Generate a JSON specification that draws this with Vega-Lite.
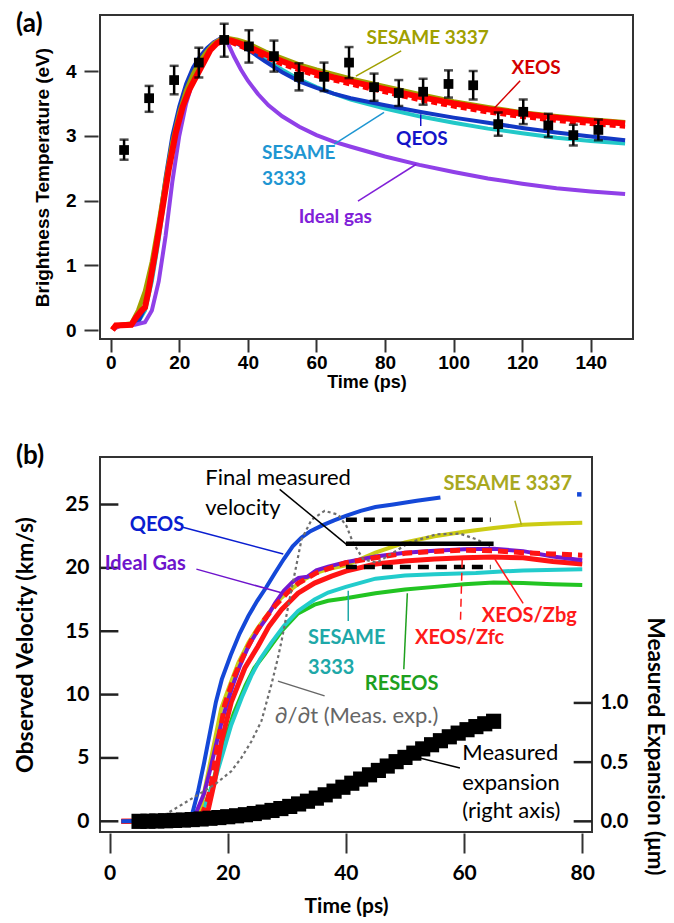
{
"$schema":"https://vega.github.io/schema/vega-lite/v6.json",
"padding":{"left":13,"top":10,"right":5,"bottom":5},
"bounds":"flush",
"spacing":118,
"resolve":{"scale":{"color":"independent"}},
"config":{"view":{"stroke":"#333333","strokeWidth":2},"axis":{"grid":false,"domain":false,"tickColor":"#333333","tickWidth":2,"labelColor":"#000000","titleColor":"#000000"}},
"datasets":{
"a_curves":[
{"s":"ideal","t":1,"v":0.02},{"s":"ideal","t":3,"v":0.07},{"s":"ideal","t":7,"v":0.08},{"s":"ideal","t":10,"v":0.12},{"s":"ideal","t":12,"v":0.3},{"s":"ideal","t":14,"v":0.75},{"s":"ideal","t":16,"v":1.45},{"s":"ideal","t":18,"v":2.3},{"s":"ideal","t":20,"v":3.0},{"s":"ideal","t":22,"v":3.5},{"s":"ideal","t":24,"v":3.85},{"s":"ideal","t":26,"v":4.1},{"s":"ideal","t":28,"v":4.3},{"s":"ideal","t":30,"v":4.43},{"s":"ideal","t":32,"v":4.5},{"s":"ideal","t":33,"v":4.51},{"s":"ideal","t":34,"v":4.45},{"s":"ideal","t":36,"v":4.22},{"s":"ideal","t":38,"v":4.02},{"s":"ideal","t":40,"v":3.85},{"s":"ideal","t":43,"v":3.64},{"s":"ideal","t":46,"v":3.47},{"s":"ideal","t":50,"v":3.3},{"s":"ideal","t":55,"v":3.14},{"s":"ideal","t":60,"v":3.01},{"s":"ideal","t":65,"v":2.91},{"s":"ideal","t":70,"v":2.83},{"s":"ideal","t":80,"v":2.68},{"s":"ideal","t":90,"v":2.55},{"s":"ideal","t":100,"v":2.44},{"s":"ideal","t":110,"v":2.34},{"s":"ideal","t":120,"v":2.26},{"s":"ideal","t":130,"v":2.19},{"s":"ideal","t":140,"v":2.14},{"s":"ideal","t":150,"v":2.1},
{"s":"s3333","t":0.5,"v":0.02},{"s":"s3333","t":2,"v":0.07},{"s":"s3333","t":6,"v":0.08},{"s":"s3333","t":8,"v":0.12},{"s":"s3333","t":10,"v":0.3},{"s":"s3333","t":12,"v":0.75},{"s":"s3333","t":14,"v":1.4},{"s":"s3333","t":16,"v":2.15},{"s":"s3333","t":18,"v":2.85},{"s":"s3333","t":20,"v":3.35},{"s":"s3333","t":22,"v":3.7},{"s":"s3333","t":24,"v":3.95},{"s":"s3333","t":26,"v":4.15},{"s":"s3333","t":28,"v":4.3},{"s":"s3333","t":30,"v":4.42},{"s":"s3333","t":32,"v":4.49},{"s":"s3333","t":34,"v":4.5},{"s":"s3333","t":37,"v":4.45},{"s":"s3333","t":40,"v":4.36},{"s":"s3333","t":45,"v":4.18},{"s":"s3333","t":50,"v":4.02},{"s":"s3333","t":55,"v":3.87},{"s":"s3333","t":60,"v":3.75},{"s":"s3333","t":65,"v":3.65},{"s":"s3333","t":70,"v":3.56},{"s":"s3333","t":80,"v":3.42},{"s":"s3333","t":90,"v":3.3},{"s":"s3333","t":100,"v":3.2},{"s":"s3333","t":110,"v":3.11},{"s":"s3333","t":120,"v":3.04},{"s":"s3333","t":130,"v":2.97},{"s":"s3333","t":140,"v":2.92},{"s":"s3333","t":150,"v":2.88},
{"s":"qeos","t":0.5,"v":0.02},{"s":"qeos","t":2,"v":0.07},{"s":"qeos","t":6,"v":0.08},{"s":"qeos","t":8,"v":0.12},{"s":"qeos","t":10,"v":0.35},{"s":"qeos","t":12,"v":0.9},{"s":"qeos","t":14,"v":1.6},{"s":"qeos","t":16,"v":2.35},{"s":"qeos","t":18,"v":3.0},{"s":"qeos","t":20,"v":3.45},{"s":"qeos","t":22,"v":3.8},{"s":"qeos","t":24,"v":4.05},{"s":"qeos","t":26,"v":4.22},{"s":"qeos","t":28,"v":4.35},{"s":"qeos","t":30,"v":4.44},{"s":"qeos","t":32,"v":4.5},{"s":"qeos","t":34,"v":4.49},{"s":"qeos","t":37,"v":4.42},{"s":"qeos","t":40,"v":4.33},{"s":"qeos","t":45,"v":4.15},{"s":"qeos","t":50,"v":3.98},{"s":"qeos","t":55,"v":3.84},{"s":"qeos","t":60,"v":3.74},{"s":"qeos","t":65,"v":3.65},{"s":"qeos","t":70,"v":3.58},{"s":"qeos","t":80,"v":3.47},{"s":"qeos","t":90,"v":3.37},{"s":"qeos","t":100,"v":3.28},{"s":"qeos","t":110,"v":3.2},{"s":"qeos","t":120,"v":3.12},{"s":"qeos","t":130,"v":3.05},{"s":"qeos","t":140,"v":2.99},{"s":"qeos","t":150,"v":2.93},
{"s":"s3337","t":0.5,"v":0.02},{"s":"s3337","t":2,"v":0.07},{"s":"s3337","t":6,"v":0.1},{"s":"s3337","t":8,"v":0.3},{"s":"s3337","t":10,"v":0.6},{"s":"s3337","t":12,"v":1.05},{"s":"s3337","t":14,"v":1.65},{"s":"s3337","t":16,"v":2.3},{"s":"s3337","t":18,"v":2.9},{"s":"s3337","t":20,"v":3.35},{"s":"s3337","t":22,"v":3.7},{"s":"s3337","t":24,"v":3.95},{"s":"s3337","t":26,"v":4.15},{"s":"s3337","t":28,"v":4.3},{"s":"s3337","t":30,"v":4.42},{"s":"s3337","t":32,"v":4.49},{"s":"s3337","t":34,"v":4.51},{"s":"s3337","t":37,"v":4.48},{"s":"s3337","t":40,"v":4.43},{"s":"s3337","t":45,"v":4.3},{"s":"s3337","t":50,"v":4.2},{"s":"s3337","t":55,"v":4.1},{"s":"s3337","t":60,"v":4.02},{"s":"s3337","t":65,"v":3.95},{"s":"s3337","t":70,"v":3.88},{"s":"s3337","t":80,"v":3.76},{"s":"s3337","t":90,"v":3.64},{"s":"s3337","t":100,"v":3.53},{"s":"s3337","t":110,"v":3.44},{"s":"s3337","t":120,"v":3.36},{"s":"s3337","t":130,"v":3.3},{"s":"s3337","t":140,"v":3.25},{"s":"s3337","t":150,"v":3.21},
{"s":"xeosd","t":35,"v":4.44},{"s":"xeosd","t":40,"v":4.33},{"s":"xeosd","t":50,"v":4.1},{"s":"xeosd","t":60,"v":3.92},{"s":"xeosd","t":70,"v":3.79},{"s":"xeosd","t":80,"v":3.67},{"s":"xeosd","t":90,"v":3.55},{"s":"xeosd","t":100,"v":3.45},{"s":"xeosd","t":110,"v":3.36},{"s":"xeosd","t":120,"v":3.29},{"s":"xeosd","t":130,"v":3.23},{"s":"xeosd","t":140,"v":3.18},{"s":"xeosd","t":150,"v":3.14},
{"s":"xeos","t":0.5,"v":0.0},{"s":"xeos","t":1.5,"v":0.07},{"s":"xeos","t":6,"v":0.08},{"s":"xeos","t":7.5,"v":0.2},{"s":"xeos","t":9,"v":0.3},{"s":"xeos","t":10,"v":0.35},{"s":"xeos","t":11,"v":0.6},{"s":"xeos","t":13,"v":1.2},{"s":"xeos","t":15,"v":1.85},{"s":"xeos","t":17,"v":2.5},{"s":"xeos","t":19,"v":3.05},{"s":"xeos","t":21,"v":3.45},{"s":"xeos","t":23,"v":3.72},{"s":"xeos","t":25,"v":3.92},{"s":"xeos","t":27,"v":4.12},{"s":"xeos","t":29,"v":4.32},{"s":"xeos","t":31,"v":4.43},{"s":"xeos","t":33,"v":4.48},{"s":"xeos","t":35,"v":4.47},{"s":"xeos","t":37,"v":4.44},{"s":"xeos","t":40,"v":4.38},{"s":"xeos","t":45,"v":4.26},{"s":"xeos","t":50,"v":4.15},{"s":"xeos","t":55,"v":4.05},{"s":"xeos","t":60,"v":3.97},{"s":"xeos","t":65,"v":3.9},{"s":"xeos","t":70,"v":3.84},{"s":"xeos","t":80,"v":3.72},{"s":"xeos","t":90,"v":3.6},{"s":"xeos","t":100,"v":3.5},{"s":"xeos","t":110,"v":3.41},{"s":"xeos","t":120,"v":3.34},{"s":"xeos","t":130,"v":3.28},{"s":"xeos","t":140,"v":3.23},{"s":"xeos","t":150,"v":3.19}
],
"a_pts":[
{"t":3.9,"v":2.78},{"t":11.2,"v":3.58},{"t":18.5,"v":3.86},{"t":25.7,"v":4.13},{"t":33.1,"v":4.48},{"t":40.3,"v":4.38},{"t":47.6,"v":4.23},{"t":54.9,"v":3.91},{"t":62.2,"v":3.91},{"t":69.5,"v":4.13},{"t":76.8,"v":3.75},{"t":84,"v":3.66},{"t":91.1,"v":3.68},{"t":98.5,"v":3.8},{"t":105.7,"v":3.78},{"t":113,"v":3.18},{"t":120.3,"v":3.37},{"t":127.6,"v":3.16},{"t":134.9,"v":3.01},{"t":142.2,"v":3.09}
],
"a_err":[
{"t":3.9,"v":2.63,"v2":2.94},{"t":11.2,"v":3.37,"v2":3.77},{"t":18.5,"v":3.64,"v2":4.08},{"t":25.7,"v":3.9,"v2":4.36},{"t":33.1,"v":4.22,"v2":4.73},{"t":40.3,"v":4.13,"v2":4.63},{"t":47.6,"v":3.99,"v2":4.47},{"t":54.9,"v":3.7,"v2":4.12},{"t":62.2,"v":3.69,"v2":4.13},{"t":69.5,"v":3.89,"v2":4.37},{"t":76.8,"v":3.54,"v2":3.96},{"t":84,"v":3.46,"v2":3.86},{"t":91.1,"v":3.48,"v2":3.88},{"t":98.5,"v":3.59,"v2":4.01},{"t":105.7,"v":3.56,"v2":4.0},{"t":113,"v":3.0,"v2":3.36},{"t":120.3,"v":3.18,"v2":3.56},{"t":127.6,"v":2.98,"v2":3.34},{"t":134.9,"v":2.85,"v2":3.17},{"t":142.2,"v":2.93,"v2":3.25}
],
"a_text":[
{"s":"s3337","label":"SESAME 3337","t":74.6,"v":4.514},{"s":"xeos","label":"XEOS","t":116.9,"v":4.05},{"s":"s3333","label":"SESAME","t":44.1,"v":2.74},{"s":"s3333","label":"3333","t":44.1,"v":2.33},{"s":"qeos","label":"QEOS","t":83.2,"v":2.945},{"s":"ideal","label":"Ideal gas","t":54.8,"v":1.745}
],
"a_arrows":[
{"s":"s3337","t":84.7,"v":4.31,"t2":71.5,"v2":3.92},{"s":"xeos","t":119.4,"v":3.85,"t2":111.9,"v2":3.43},{"s":"s3333","t":65.2,"v":2.87,"t2":79.7,"v2":3.36},{"s":"qeos","t":90.4,"v":3.15,"t2":90.4,"v2":3.33},{"s":"ideal","t":72.1,"v":1.99,"t2":89.1,"v2":2.56}
],
"a_label":[{"label":"(a)","t":-27.6,"v":4.726}],
"b_curves":[
{"s":"reseos","t":2,"v":0},{"s":"reseos","t":13,"v":0},{"s":"reseos","t":15.5,"v":0.5},{"s":"reseos","t":17,"v":2.3},{"s":"reseos","t":19,"v":5.6},{"s":"reseos","t":21,"v":8.5},{"s":"reseos","t":23,"v":10.7},{"s":"reseos","t":24.5,"v":12.1},{"s":"reseos","t":26.3,"v":13.2},{"s":"reseos","t":29.1,"v":15.0},{"s":"reseos","t":31.9,"v":16.4},{"s":"reseos","t":34.7,"v":17.1},{"s":"reseos","t":37,"v":17.4},{"s":"reseos","t":40,"v":17.6},{"s":"reseos","t":45,"v":18.0},{"s":"reseos","t":50,"v":18.3},{"s":"reseos","t":55,"v":18.5},{"s":"reseos","t":60,"v":18.7},{"s":"reseos","t":65,"v":18.85},{"s":"reseos","t":70,"v":18.8},{"s":"reseos","t":75,"v":18.7},{"s":"reseos","t":80,"v":18.65},
{"s":"s3333","t":2,"v":0},{"s":"s3333","t":13,"v":0},{"s":"s3333","t":15.5,"v":0.6},{"s":"s3333","t":17.8,"v":3.2},{"s":"s3333","t":20.6,"v":7.6},{"s":"s3333","t":22.5,"v":9.9},{"s":"s3333","t":24,"v":11.5},{"s":"s3333","t":25.5,"v":12.8},{"s":"s3333","t":27.4,"v":14.1},{"s":"s3333","t":29.5,"v":15.4},{"s":"s3333","t":31.9,"v":16.6},{"s":"s3333","t":34.7,"v":17.5},{"s":"s3333","t":37,"v":18.05},{"s":"s3333","t":40,"v":18.5},{"s":"s3333","t":45,"v":19.15},{"s":"s3333","t":50,"v":19.4},{"s":"s3333","t":55,"v":19.5},{"s":"s3333","t":62,"v":19.6},{"s":"s3333","t":70,"v":19.8},{"s":"s3333","t":80,"v":19.9},
{"s":"zbg","t":2,"v":0},{"s":"zbg","t":13,"v":0.05},{"s":"zbg","t":15.5,"v":0.3},{"s":"zbg","t":16.7,"v":0.9},{"s":"zbg","t":17.8,"v":3.2},{"s":"zbg","t":18.9,"v":6.2},{"s":"zbg","t":20.6,"v":9.4},{"s":"zbg","t":22.9,"v":12.1},{"s":"zbg","t":25.1,"v":13.8},{"s":"zbg","t":27,"v":15.4},{"s":"zbg","t":29.1,"v":16.7},{"s":"zbg","t":31.9,"v":18.0},{"s":"zbg","t":34.7,"v":18.8},{"s":"zbg","t":37.6,"v":19.35},{"s":"zbg","t":40,"v":19.75},{"s":"zbg","t":45,"v":20.3},{"s":"zbg","t":50,"v":20.55},{"s":"zbg","t":55,"v":20.7},{"s":"zbg","t":60,"v":20.8},{"s":"zbg","t":65,"v":20.85},{"s":"zbg","t":70,"v":20.8},{"s":"zbg","t":75,"v":20.5},{"s":"zbg","t":80,"v":20.3},
{"s":"s3337","t":2,"v":0},{"s":"s3337","t":13,"v":0},{"s":"s3337","t":14.5,"v":0.4},{"s":"s3337","t":15.5,"v":1.1},{"s":"s3337","t":17.2,"v":5.0},{"s":"s3337","t":18.9,"v":8.9},{"s":"s3337","t":20,"v":10.3},{"s":"s3337","t":21.8,"v":12.5},{"s":"s3337","t":23.5,"v":14.1},{"s":"s3337","t":25,"v":15.2},{"s":"s3337","t":27,"v":16.5},{"s":"s3337","t":29,"v":17.6},{"s":"s3337","t":31,"v":18.4},{"s":"s3337","t":33,"v":19.1},{"s":"s3337","t":35,"v":19.6},{"s":"s3337","t":37,"v":19.9},{"s":"s3337","t":40,"v":20.2},{"s":"s3337","t":45,"v":21.2},{"s":"s3337","t":50,"v":22.0},{"s":"s3337","t":55,"v":22.5},{"s":"s3337","t":60,"v":22.85},{"s":"s3337","t":65,"v":23.15},{"s":"s3337","t":70,"v":23.4},{"s":"s3337","t":75,"v":23.5},{"s":"s3337","t":80,"v":23.56},
{"s":"ideal","t":2,"v":0},{"s":"ideal","t":13,"v":0},{"s":"ideal","t":14.5,"v":0.5},{"s":"ideal","t":16,"v":2.2},{"s":"ideal","t":17,"v":4.0},{"s":"ideal","t":18,"v":6.0},{"s":"ideal","t":19,"v":7.9},{"s":"ideal","t":20,"v":9.5},{"s":"ideal","t":21,"v":10.9},{"s":"ideal","t":22,"v":12.2},{"s":"ideal","t":23.5,"v":13.8},{"s":"ideal","t":25,"v":15.0},{"s":"ideal","t":26.5,"v":16.0},{"s":"ideal","t":28,"v":17.2},{"s":"ideal","t":29.5,"v":18.2},{"s":"ideal","t":31,"v":18.9},{"s":"ideal","t":32,"v":19.2},{"s":"ideal","t":33.5,"v":19.3},{"s":"ideal","t":35,"v":19.8},{"s":"ideal","t":37,"v":20.1},{"s":"ideal","t":40,"v":20.45},{"s":"ideal","t":45,"v":20.9},{"s":"ideal","t":50,"v":21.2},{"s":"ideal","t":55,"v":21.35},{"s":"ideal","t":60,"v":21.46},{"s":"ideal","t":65,"v":21.5},{"s":"ideal","t":70,"v":21.32},{"s":"ideal","t":75,"v":20.9},{"s":"ideal","t":80,"v":20.6},
{"s":"zfc","t":2,"v":0},{"s":"zfc","t":13,"v":0.05},{"s":"zfc","t":15.5,"v":0.4},{"s":"zfc","t":16.5,"v":1.5},{"s":"zfc","t":17.2,"v":2.9},{"s":"zfc","t":18.4,"v":6.3},{"s":"zfc","t":19.5,"v":9.2},{"s":"zfc","t":21,"v":11.3},{"s":"zfc","t":22.5,"v":12.9},{"s":"zfc","t":24,"v":14.3},{"s":"zfc","t":26,"v":15.8},{"s":"zfc","t":28,"v":17.0},{"s":"zfc","t":30,"v":18.0},{"s":"zfc","t":32,"v":18.8},{"s":"zfc","t":35,"v":19.6},{"s":"zfc","t":38,"v":20.1},{"s":"zfc","t":40,"v":20.4},{"s":"zfc","t":45,"v":20.8},{"s":"zfc","t":50,"v":21.15},{"s":"zfc","t":55,"v":21.3},{"s":"zfc","t":60,"v":21.4},{"s":"zfc","t":65,"v":21.35},{"s":"zfc","t":70,"v":21.2},{"s":"zfc","t":75,"v":21.1},{"s":"zfc","t":80,"v":21.0},
{"s":"qeos","t":2,"v":0},{"s":"qeos","t":13,"v":0.1},{"s":"qeos","t":14,"v":0.6},{"s":"qeos","t":15,"v":2.4},{"s":"qeos","t":16,"v":4.6},{"s":"qeos","t":17,"v":7.0},{"s":"qeos","t":18,"v":9.4},{"s":"qeos","t":19,"v":11.2},{"s":"qeos","t":20.5,"v":13.1},{"s":"qeos","t":22,"v":14.8},{"s":"qeos","t":23.5,"v":16.2},{"s":"qeos","t":25,"v":17.4},{"s":"qeos","t":26.5,"v":18.45},{"s":"qeos","t":28,"v":19.6},{"s":"qeos","t":29.5,"v":20.7},{"s":"qeos","t":31,"v":21.7},{"s":"qeos","t":32.5,"v":22.4},{"s":"qeos","t":34,"v":22.9},{"s":"qeos","t":36,"v":23.35},{"s":"qeos","t":38,"v":23.75},{"s":"qeos","t":40,"v":24.1},{"s":"qeos","t":42.5,"v":24.5},{"s":"qeos","t":45,"v":24.8},{"s":"qeos","t":48,"v":25.0},{"s":"qeos","t":52,"v":25.3},{"s":"qeos","t":56,"v":25.55},
{"s":"gray","t":6.5,"v":-0.1},{"s":"gray","t":9.3,"v":0.5},{"s":"gray","t":12.2,"v":1.3},{"s":"gray","t":15,"v":2.1},{"s":"gray","t":17.8,"v":2.9},{"s":"gray","t":20.6,"v":3.95},{"s":"gray","t":22.3,"v":5.0},{"s":"gray","t":24,"v":6.3},{"s":"gray","t":25.7,"v":7.9},{"s":"gray","t":27.4,"v":10.8},{"s":"gray","t":28.5,"v":12.9},{"s":"gray","t":29.1,"v":14.2},{"s":"gray","t":30.8,"v":18.3},{"s":"gray","t":32.5,"v":22.25},{"s":"gray","t":34.2,"v":23.8},{"s":"gray","t":36.4,"v":24.5},{"s":"gray","t":38.7,"v":24.2},{"s":"gray","t":40.1,"v":23.3},{"s":"gray","t":41.2,"v":22.0},{"s":"gray","t":42.9,"v":20.7},{"s":"gray","t":45.2,"v":20.4},{"s":"gray","t":48,"v":21.2},{"s":"gray","t":50.8,"v":22.0},{"s":"gray","t":55.3,"v":22.65},{"s":"gray","t":59.3,"v":22.7},{"s":"gray","t":62.1,"v":22.25},{"s":"gray","t":64.4,"v":21.7}
],
"b_final":[
{"kind":"dash","t":40,"t2":64.5,"v":23.8},{"kind":"solid","t":40,"t2":65,"v":21.9},{"kind":"dash","t":40,"t2":64.5,"v":20.06}
],
"b_dot":[{"t":79.5,"v":25.8}],
"b_lticks":[{"t":-1.61,"t2":1.5,"v":0},{"t":-1.61,"t2":1.5,"v":5},{"t":-1.61,"t2":1.5,"v":10},{"t":-1.61,"t2":1.5,"v":15},{"t":-1.61,"t2":1.5,"v":20},{"t":-1.61,"t2":1.5,"v":25}],
"b_rticks":[{"t":78.55,"t2":81.65,"e":0},{"t":78.55,"t2":81.65,"e":0.5},{"t":78.55,"t2":81.65,"e":1}],
"b_exp":[
{"t":5,"e":0.0},{"t":6.5,"e":0.001},{"t":8,"e":0.003},{"t":9.5,"e":0.005},{"t":11,"e":0.008},{"t":12.5,"e":0.011},{"t":14,"e":0.015},{"t":15.5,"e":0.02},{"t":17,"e":0.026},{"t":18.5,"e":0.032},{"t":20,"e":0.039},{"t":21.5,"e":0.047},{"t":23,"e":0.056},{"t":24.5,"e":0.066},{"t":26,"e":0.078},{"t":27.5,"e":0.092},{"t":29,"e":0.108},{"t":30.5,"e":0.126},{"t":32,"e":0.147},{"t":33.5,"e":0.17},{"t":35,"e":0.196},{"t":36.5,"e":0.224},{"t":38,"e":0.255},{"t":39.5,"e":0.288},{"t":41,"e":0.322},{"t":42.5,"e":0.357},{"t":44,"e":0.393},{"t":45.5,"e":0.43},{"t":47,"e":0.467},{"t":48.5,"e":0.504},{"t":50,"e":0.54},{"t":51.5,"e":0.576},{"t":53,"e":0.612},{"t":54.5,"e":0.647},{"t":56,"e":0.681},{"t":57.5,"e":0.714},{"t":59,"e":0.745},{"t":60.5,"e":0.774},{"t":62,"e":0.8},{"t":63.5,"e":0.824},{"t":65,"e":0.845}
],
"b_text_bold":[
{"s":"qeos","label":"QEOS","t":3.42,"v":23.4},{"s":"ideal","label":"Ideal Gas","t":-0.81,"v":20.3},{"s":"s3337","label":"SESAME 3337","t":56.5,"v":26.6},{"s":"zbg","label":"XEOS/Zbg","t":63.0,"v":16.2},{"s":"zfc","label":"XEOS/Zfc","t":51.7,"v":14.48},{"s":"s3333","label":"SESAME","t":33.6,"v":14.5},{"s":"s3333","label":"3333","t":33.6,"v":12.1},{"s":"reseos","label":"RESEOS","t":43.2,"v":10.8}
],
"b_text_norm":[
{"s":"k","label":"Final measured","t":16.2,"v":27.1},{"s":"k","label":"velocity","t":16.2,"v":24.75},{"s":"gray","label":"∂/∂t (Meas. exp.)","t":27.97,"v":8.29},{"s":"k","label":"Measured","t":59.7,"v":5.4},{"s":"k","label":"expansion","t":59.7,"v":3.03},{"s":"k","label":"(right axis)","t":59.7,"v":0.79}
],
"b_arrows":[
{"s":"k","t":28.8,"v":26.2,"t2":40.1,"v2":21.85},{"s":"qeos","t":12.4,"v":23.2,"t2":29.4,"v2":21.1},{"s":"ideal","t":14.7,"v":19.9,"t2":29.4,"v2":18.0},{"s":"s3337","t":68.6,"v":25.3,"t2":69.7,"v2":23.4},{"s":"zbg","t":70,"v":17.2,"t2":65.2,"v2":20.7},{"s":"zfc","t":59.4,"v":15.9,"t2":59.7,"v2":20.9},{"s":"s3333","t":40.4,"v":15.8,"t2":40.4,"v2":18.2},{"s":"reseos","t":49.8,"v":12.0,"t2":50.4,"v2":18.0},{"s":"gray","t":36.4,"v":9.9,"t2":28.5,"v2":11.06},{"s":"k","t":59.3,"v":4.2,"t2":52.5,"v2":5.0}
],
"b_label":[{"label":"(b)","t":-15.83,"v":28.83}]
},
"vconcat":[
{
"width":533,"height":324,
"encoding":{
"x":{"field":"t","type":"quantitative","scale":{"domain":[-3.12,152.3],"nice":false,"zero":false},"axis":{"values":[0,20,40,60,80,100,120,140],"tickSize":13,"labelFont":"Liberation Sans","labelFontWeight":"bold","labelFontSize":19,"labelPadding":1,"title":"Time (ps)","titleFont":"Liberation Sans","titleFontSize":18,"titleFontWeight":"bold","titlePadding":1}},
"y":{"field":"v","type":"quantitative","scale":{"domain":[-0.139,4.865],"nice":false,"zero":false},"axis":{"values":[0,1,2,3,4],"tickSize":14,"offset":2,"labelFont":"Liberation Sans","labelFontWeight":"bold","labelFontSize":19,"labelPadding":8,"title":"Brightness Temperature (eV)","titleFont":"Liberation Sans","titleFontSize":19,"titleFontWeight":"bold","titlePadding":13}}
},
"layer":[
{"data":{"name":"a_curves"},"transform":[{"filter":"datum.s==='s3333'"}],"mark":{"type":"line","color":"#22C8C8","strokeWidth":4}},
{"data":{"name":"a_curves"},"transform":[{"filter":"datum.s==='qeos'"}],"mark":{"type":"line","color":"#1238C4","strokeWidth":4}},
{"data":{"name":"a_curves"},"transform":[{"filter":"datum.s==='ideal'"}],"mark":{"type":"line","color":"#9040E8","strokeWidth":4}},
{"data":{"name":"a_curves"},"transform":[{"filter":"datum.s==='s3337'"}],"mark":{"type":"line","color":"#A2A000","strokeWidth":4.5}},
{"data":{"name":"a_curves"},"transform":[{"filter":"datum.s==='xeosd'"}],"mark":{"type":"line","color":"#FF0000","strokeWidth":4,"strokeDash":[6,4]}},
{"data":{"name":"a_curves"},"transform":[{"filter":"datum.s==='xeos'"}],"mark":{"type":"line","color":"#FF0000","strokeWidth":6}},
{"data":{"name":"a_arrows"},"mark":{"type":"rule","strokeWidth":1.5},"encoding":{"x2":{"field":"t2"},"y2":{"field":"v2"},"color":{"field":"s","type":"nominal","legend":null,"scale":{"domain":["s3337","xeos","s3333","qeos","ideal"],"range":["#A0A000","#D40000","#1E96D2","#1414C8","#8020D8"]}}}},
{"data":{"name":"a_err"},"mark":{"type":"errorbar","ticks":true,"size":9,"thickness":2.5,"color":"#000000"},"encoding":{"y2":{"field":"v2"}}},
{"data":{"name":"a_pts"},"mark":{"type":"point","shape":"square","filled":true,"size":95,"color":"#000000","opacity":1}},
{"data":{"name":"a_text"},"mark":{"type":"text","align":"left","baseline":"middle","font":"Lato","fontWeight":"bold","fontSize":19},"encoding":{"text":{"field":"label"},"color":{"field":"s","type":"nominal","legend":null,"scale":{"domain":["s3337","xeos","s3333","qeos","ideal"],"range":["#A0A000","#D40000","#1E96D2","#1414C8","#8020D8"]}}}},
{"data":{"name":"a_label"},"mark":{"type":"text","align":"left","baseline":"middle","font":"Lato","fontWeight":"bold","fontSize":26,"color":"#000000"},"encoding":{"text":{"field":"label"}}}
]
},
{
"width":492,"height":375,
"encoding":{"x":{"field":"t","type":"quantitative","scale":{"domain":[-1.61,81.65],"nice":false,"zero":false},"axis":{"values":[0,20,40,60,80],"tickSize":20,"offset":1,"labelFont":"Lato","labelFontWeight":"bold","labelFontSize":21,"labelPadding":9,"title":"Time (ps)","titleFont":"Lato","titleFontSize":21,"titleFontWeight":"bold","titlePadding":12}}},
"layer":[
{
"encoding":{"y":{"field":"v","type":"quantitative","scale":{"domain":[-0.845,28.75],"nice":false,"zero":false},"axis":{"values":[0,5,10,15,20,25],"ticks":false,"labelPadding":11,"labelFont":"Lato","labelFontWeight":"bold","labelFontSize":21,"title":"Observed Velocity (km/s)","titleFont":"Lato","titleFontSize":23,"titleFontWeight":"bold","titlePadding":27}}},
"layer":[
{"data":{"name":"b_lticks"},"mark":{"type":"rule","color":"#222222","strokeWidth":2.5},"encoding":{"x2":{"field":"t2"}}},
{"data":{"name":"b_curves"},"transform":[{"filter":"datum.s==='reseos'"}],"mark":{"type":"line","color":"#22C422","strokeWidth":4}},
{"data":{"name":"b_curves"},"transform":[{"filter":"datum.s==='s3333'"}],"mark":{"type":"line","color":"#22CCCC","strokeWidth":4}},
{"data":{"name":"b_curves"},"transform":[{"filter":"datum.s==='zbg'"}],"mark":{"type":"line","color":"#FF1414","strokeWidth":5}},
{"data":{"name":"b_curves"},"transform":[{"filter":"datum.s==='s3337'"}],"mark":{"type":"line","color":"#CCCC14","strokeWidth":4}},
{"data":{"name":"b_curves"},"transform":[{"filter":"datum.s==='ideal'"}],"mark":{"type":"line","color":"#7418D0","strokeWidth":4}},
{"data":{"name":"b_curves"},"transform":[{"filter":"datum.s==='zfc'"}],"mark":{"type":"line","color":"#FF1414","strokeWidth":5,"strokeDash":[10,6]}},
{"data":{"name":"b_curves"},"transform":[{"filter":"datum.s==='qeos'"}],"mark":{"type":"line","color":"#1448D8","strokeWidth":4}},
{"data":{"name":"b_curves"},"transform":[{"filter":"datum.s==='gray'"}],"mark":{"type":"line","color":"#6E6E6E","strokeWidth":2.2,"strokeDash":[3,3]}},
{"data":{"name":"b_final"},"transform":[{"filter":"datum.kind==='dash'"}],"mark":{"type":"rule","color":"#000000","strokeWidth":4.5,"strokeDash":[11,7]},"encoding":{"x2":{"field":"t2"}}},
{"data":{"name":"b_final"},"transform":[{"filter":"datum.kind==='solid'"}],"mark":{"type":"rule","color":"#000000","strokeWidth":4.5},"encoding":{"x2":{"field":"t2"}}},
{"data":{"name":"b_dot"},"mark":{"type":"point","shape":"square","filled":true,"size":20,"color":"#1448D8","opacity":1}},
{"data":{"name":"b_arrows"},"transform":[{"filter":"datum.s!=='zfc'"}],"mark":{"type":"rule","strokeWidth":1.5},"encoding":{"x2":{"field":"t2"},"y2":{"field":"v2"},"color":{"field":"s","type":"nominal","legend":null,"scale":{"domain":["k","qeos","ideal","s3337","zbg","zfc","s3333","reseos","gray"],"range":["#000000","#0A1ED0","#6E14CC","#A8A820","#FF1A1A","#FF1A1A","#1EA8A8","#1EA01E","#666666"]}}}},
{"data":{"name":"b_arrows"},"transform":[{"filter":"datum.s==='zfc'"}],"mark":{"type":"rule","strokeWidth":1.5,"strokeDash":[8,5],"color":"#FF1A1A"},"encoding":{"x2":{"field":"t2"},"y2":{"field":"v2"}}},
{"data":{"name":"b_text_bold"},"mark":{"type":"text","align":"left","baseline":"middle","font":"Lato","fontWeight":"bold","fontSize":20},"encoding":{"text":{"field":"label"},"color":{"field":"s","type":"nominal","legend":null,"scale":{"domain":["k","qeos","ideal","s3337","zbg","zfc","s3333","reseos","gray"],"range":["#000000","#0A1ED0","#6E14CC","#A8A820","#FF1A1A","#FF1A1A","#1EA8A8","#1EA01E","#666666"]}}}},
{"data":{"name":"b_text_norm"},"mark":{"type":"text","align":"left","baseline":"middle","font":"Lato","fontWeight":"normal","fontSize":22},"encoding":{"text":{"field":"label"},"color":{"field":"s","type":"nominal","legend":null,"scale":{"domain":["k","qeos","ideal","s3337","zbg","zfc","s3333","reseos","gray"],"range":["#000000","#0A1ED0","#6E14CC","#A8A820","#FF1A1A","#FF1A1A","#1EA8A8","#1EA01E","#666666"]}}}},
{"data":{"name":"b_label"},"mark":{"type":"text","align":"left","baseline":"middle","font":"Lato","fontWeight":"bold","fontSize":26,"color":"#000000"},"encoding":{"text":{"field":"label"}}}
]
},
{
"encoding":{"y":{"field":"e","type":"quantitative","scale":{"domain":[-0.09,3.077],"nice":false,"zero":false},"axis":{"orient":"right","values":[0,0.5,1],"format":".1f","ticks":false,"labelPadding":8,"labelFont":"Lato","labelFontWeight":"bold","labelFontSize":20,"title":"Measured Expansion (μm)","titleFont":"Lato","titleFontSize":22.5,"titleFontWeight":"bold","titlePadding":15,"titleY":289}}},
"layer":[
{"data":{"name":"b_rticks"},"mark":{"type":"rule","color":"#222222","strokeWidth":2.5},"encoding":{"x2":{"field":"t2"}}},
{"data":{"name":"b_exp"},"mark":{"type":"point","shape":"square","filled":true,"size":230,"color":"#000000","opacity":1}}
]
}
],
"resolve":{"scale":{"y":"independent"},"axis":{"y":"independent"}}
}
]
}
